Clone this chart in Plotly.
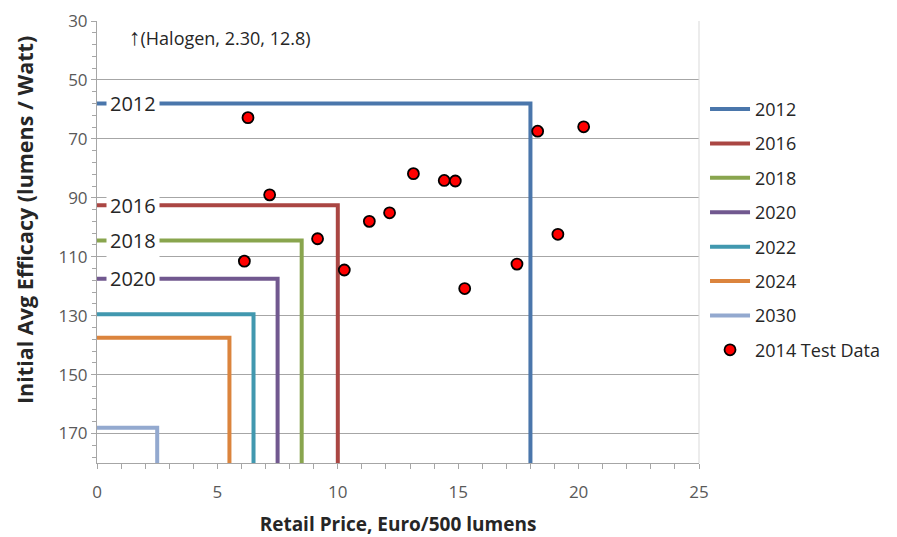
import plotly.graph_objects as go

# Standard step lines: (year, max price Euro/500 lm, min efficacy lm/W)
years = ["2012", "2016", "2018", "2020", "2022", "2024", "2030"]
price_limits = [18.0, 10.0, 8.5, 7.5, 6.5, 5.5, 2.5]
efficacy_limits = [58, 92.5, 104.5, 117.5, 129.5, 137.5, 168]
line_colors = ["#4A76AB", "#AA4643", "#89A54E", "#71588F", "#4198AF", "#DB843D", "#93A9CF"]
labelled_years = ["2012", "2016", "2018", "2020"]

# 2014 Test Data
test_price = [6.27, 7.17, 6.12, 9.16, 10.27, 11.31, 12.15, 13.14, 14.42, 14.88, 18.30, 20.21, 15.27, 17.44, 19.14]
test_efficacy = [62.8, 89.0, 111.5, 103.9, 114.5, 98.0, 95.1, 81.8, 84.1, 84.3, 67.4, 65.9, 120.8, 112.5, 102.4]

Y_MIN, Y_MAX = 30, 180
X_MIN, X_MAX = 0, 25

FONT = "Open Sans, Noto Sans, sans-serif"
TICK_COLOR = "#595959"

fig = go.Figure()

for yr, px, ef, col in zip(years, price_limits, efficacy_limits, line_colors):
    fig.add_trace(go.Scatter(
        x=[X_MIN, px, px], y=[ef, ef, Y_MAX],
        mode="lines", name=yr,
        line=dict(color=col, width=4),
        legendgroup=yr,
    ))

fig.add_trace(go.Scatter(
    x=test_price, y=test_efficacy, mode="markers", name="2014 Test Data",
    marker=dict(color="#FF0000", size=11, line=dict(color="#000000", width=1.8)),
    legendgroup="test",
))

# labels on the lines
for yr, ef in zip(years, efficacy_limits):
    if yr in labelled_years:
        fig.add_annotation(
            x=0.36, y=ef, text=yr, showarrow=False, xanchor="left", yanchor="middle",
            font=dict(family=FONT, size=20, color="#262626"),
            bgcolor="white", borderpad=3,
        )

fig.add_annotation(
    x=1.25, y=35.0, text="<span style='font-size:23px'>↑</span>(Halogen, 2.30, 12.8)", showarrow=False,
    xanchor="left", yanchor="middle",
    font=dict(family=FONT, size=18, color="#262626"),
)

# y axis title (placed as annotation to match reference position)
fig.add_annotation(
    xref="paper", yref="paper", x=-97 / 602 + 25 / 602, y=(463 - 220) / 442,
    text="<b>Initial Avg Efficacy (lumens / Watt)</b>", textangle=-90, showarrow=False,
    xanchor="center", yanchor="middle",
    font=dict(family=FONT, size=21.5, color="#262626"),
)

fig.update_layout(
    width=897, height=537,
    margin=dict(l=97, r=198, t=21, b=74, autoexpand=False),
    plot_bgcolor="white", paper_bgcolor="white",
    font=dict(family=FONT, color=TICK_COLOR),
    legend=dict(
        x=1.01, y=0.842, xanchor="left", yanchor="top",
        font=dict(family=FONT, size=18, color="#262626"),
        tracegroupgap=8, itemwidth=40,
    ),
    showlegend=True,
)

fig.update_xaxes(
    range=[X_MIN, X_MAX], dtick=5, tick0=0, automargin=False,
    showgrid=False, zeroline=False,
    showline=True, linecolor="#A6A6A6", linewidth=1,
    ticks="outside", ticklen=5, tickcolor="#A6A6A6", ticklabelstandoff=9,
    minor=dict(dtick=1, ticks="outside", ticklen=5, tickcolor="#A6A6A6"),
    tickfont=dict(family=FONT, size=17, color=TICK_COLOR),
    title=dict(text="<b>Retail Price, Euro/500 lumens</b>",
               font=dict(family=FONT, size=19, color="#262626"), standoff=15),
)

fig.update_yaxes(
    range=[Y_MAX, Y_MIN], tick0=30, dtick=20, automargin=False,
    showgrid=True, gridcolor="#A6A6A6", gridwidth=1, zeroline=False,
    showline=True, linecolor="#A6A6A6", linewidth=1,
    ticks="outside", ticklen=5, tickcolor="#A6A6A6",
    minor=dict(dtick=4, tick0=30, ticks="outside", ticklen=4, tickcolor="#A6A6A6", showgrid=False),
    tickfont=dict(family=FONT, size=17, color=TICK_COLOR),
)

# right plot border
fig.add_shape(type="line", xref="paper", yref="paper", x0=1, x1=1, y0=0, y1=1,
              line=dict(color="#D9D9D9", width=1))

fig.write_html("out.html", config={"displayModeBar": False},
               post_script="document.body.style.margin='0';document.body.style.overflow='hidden';")
